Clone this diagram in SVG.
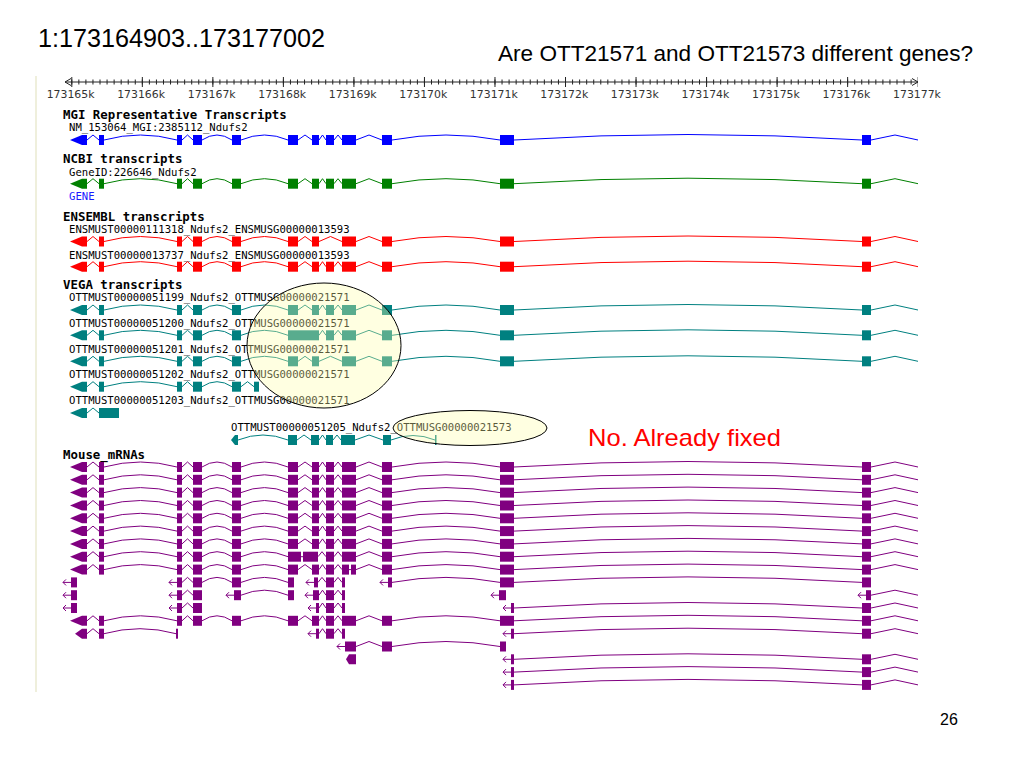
<svg xmlns="http://www.w3.org/2000/svg" xmlns:xlink="http://www.w3.org/1999/xlink" width="1024" height="768" viewBox="0 0 1024 768">
<style>
.e{fill:currentColor;stroke:none}
.in{fill:none;stroke:currentColor;stroke-width:1}
.lbl{font-family:"DejaVu Sans Mono",monospace;font-size:10.6px;fill:#000}
.ttl{font-family:"DejaVu Sans Mono",monospace;font-size:12.4px;font-weight:bold;fill:#000}
.rul{font-family:"DejaVu Sans",sans-serif;font-size:10.9px;fill:#333;text-anchor:middle}
.hl{fill:#ffffaa;fill-opacity:0.35;stroke:#000;stroke-width:1}
.big{font-family:"Liberation Sans",Arial,sans-serif;fill:#000}
.blue{color:#0000ff}
.green{color:#008000}
.red{color:#ff0000}
.teal{color:#008080}
.purple{color:#800080}
</style>
<defs>
<g id="head">
<polygon class="e" points="70,0 82,-5 87,-5 87,5 82,5"/>
<rect class="e" x="99" y="-5" width="5" height="10"/>
<rect class="e" x="177" y="-5" width="5" height="10"/>
<rect class="e" x="193" y="-5" width="9" height="10"/>
<rect class="e" x="232" y="-5" width="9" height="10"/>
<path class="in" d="M87,0 L93,-5 L99,0 M104,0 Q140.5,-10 177,0 M182,0 L187.5,-5 L193,0 M202,0 Q217,-10 232,0"/>
</g>
<g id="mid">
<rect class="e" x="288" y="-5" width="10" height="10"/>
<rect class="e" x="312" y="-5" width="7" height="10"/>
<rect class="e" x="326" y="-5" width="8" height="10"/>
<rect class="e" x="342" y="-5" width="14" height="10"/>
<path class="in" d="M241,0 Q264.5,-10 288,0 M298,0 L305,-5 L312,0 M319,0 L322.5,-5 L326,0 M334,0 L338,-5 L342,0"/>
</g>
<g id="mid7">
<rect class="e" x="288" y="-5" width="10" height="10"/>
<rect class="e" x="312" y="-5" width="7" height="10"/>
<rect class="e" x="342" y="-5" width="14" height="10"/>
<path class="in" d="M241,0 Q264.5,-10 288,0 M298,0 L305,-5 L312,0 M319,0 L330.5,-5 L342,0"/>
</g>
<g id="tail">
<rect class="e" x="382" y="-5" width="10" height="10"/>
<rect class="e" x="500" y="-5" width="14" height="10"/>
<rect class="e" x="862" y="-5" width="9" height="10"/>
<path class="in" d="M356,0 L369,-5 L382,0 M392,0 Q446,-10 500,0 M514,0 Q688,-11 862,0 M871,0 L895,-5 L918,0"/>
</g>
<path id="la" class="in" d="M0,0 L8,0 M3,-3 L0,0 L3,3"/>
<g id="rt">
<use href="#la" x="503"/>
<rect class="e" x="511" y="-5" width="3" height="10"/>
<rect class="e" x="862" y="-5" width="9" height="10"/>
<path class="in" d="M514,0 Q688,-11 862,0 M871,0 L895,-5 L918,0"/>
</g>
</defs>

<rect width="1024" height="768" fill="#fff"/>
<text class="big" x="38" y="47" font-size="25" textLength="287" lengthAdjust="spacingAndGlyphs">1:173164903..173177002</text>
<text class="big" x="498" y="61" font-size="21.5" textLength="475" lengthAdjust="spacingAndGlyphs">Are OTT21571 and OTT21573 different genes?</text>
<rect x="35" y="76" width="2" height="616" fill="#efefdc"/>

<g id="ruler" stroke="#222">
<line x1="65" y1="82" x2="918" y2="82"/>
<path d="M71,78.5 L65,82 L71,85.5 M912,78.5 L918,82 L912,85.5" fill="none"/>
<line x1="71.3" y1="82" x2="916" y2="82" stroke-width="5" stroke-dasharray="1 6.053"/>
<line x1="71.3" y1="82" x2="918" y2="82" stroke-width="10" stroke-dasharray="1 69.53"/>
<g stroke="none">
<text class="rul" x="70.6" y="98.3">173165k</text>
<text class="rul" x="141.1" y="98.3">173166k</text>
<text class="rul" x="211.7" y="98.3">173167k</text>
<text class="rul" x="282.2" y="98.3">173168k</text>
<text class="rul" x="352.7" y="98.3">173169k</text>
<text class="rul" x="423.3" y="98.3">173170k</text>
<text class="rul" x="493.8" y="98.3">173171k</text>
<text class="rul" x="564.3" y="98.3">173172k</text>
<text class="rul" x="634.8" y="98.3">173173k</text>
<text class="rul" x="705.4" y="98.3">173174k</text>
<text class="rul" x="775.9" y="98.3">173175k</text>
<text class="rul" x="846.4" y="98.3">173176k</text>
<text class="rul" x="917" y="98.3">173177k</text>
</g>
</g>

<g id="mgi">
<text class="ttl" x="63" y="118.5">MGI Representative Transcripts</text>
<text class="lbl" x="69" y="131">NM_153064_MGI:2385112_Ndufs2</text>
<g class="blue" transform="translate(0,140)"><use href="#head"/><use href="#mid"/><use href="#tail"/></g>
</g>

<g id="ncbi">
<text class="ttl" x="63" y="162.5">NCBI transcripts</text>
<text class="lbl" x="69" y="175.5">GeneID:226646_Ndufs2</text>
<g class="green" transform="translate(0,183.7)"><use href="#head"/><use href="#mid"/><use href="#tail"/></g>
<text class="lbl" x="69" y="200" style="fill:#1a1aff">GENE</text>
</g>

<g id="ensembl">
<text class="ttl" x="63" y="220.5">ENSEMBL transcripts</text>
<text class="lbl" x="69" y="232.5">ENSMUST00000111318_Ndufs2_ENSMUSG00000013593</text>
<g class="red" transform="translate(0,241.5)"><use href="#head"/><use href="#mid7"/><use href="#tail"/></g>
<text class="lbl" x="69" y="259">ENSMUST00000013737_Ndufs2_ENSMUSG00000013593</text>
<g class="red" transform="translate(0,266.7)"><use href="#head"/><use href="#mid"/><use href="#tail"/></g>
</g>

<g id="vega">
<text class="ttl" x="63" y="288.5">VEGA transcripts</text>
<text class="lbl" x="69" y="301">OTTMUST00000051199_Ndufs2_OTTMUSG00000021571</text>
<g class="teal" transform="translate(0,310)"><use href="#head"/><use href="#mid"/><use href="#tail"/></g>
<text class="lbl" x="69" y="327">OTTMUST00000051200_Ndufs2_OTTMUSG00000021571</text>
<g class="teal" transform="translate(0,335.3)"><use href="#head"/>
<rect class="e" x="288" y="-5" width="31" height="10"/>
<rect class="e" x="326" y="-5" width="8" height="10"/>
<rect class="e" x="342" y="-5" width="14" height="10"/>
<path class="in" d="M241,0 Q264.5,-10 288,0 M319,0 L322.5,-5 L326,0 M334,0 L338,-5 L342,0"/>
<use href="#tail"/></g>
<text class="lbl" x="69" y="353">OTTMUST00000051201_Ndufs2_OTTMUSG00000021571</text>
<g class="teal" transform="translate(0,361.3)"><use href="#head"/><use href="#mid7"/><use href="#tail"/></g>
<text class="lbl" x="69" y="378">OTTMUST00000051202_Ndufs2_OTTMUSG00000021571</text>
<g class="teal" transform="translate(0,386.7)"><use href="#head"/>
<rect class="e" x="254" y="-5" width="5" height="10"/>
<path class="in" d="M241,0 L247.5,-5 L254,0"/></g>
<text class="lbl" x="69" y="404">OTTMUST00000051203_Ndufs2_OTTMUSG00000021571</text>
<g class="teal" transform="translate(0,413)">
<polygon class="e" points="70,0 82,-5 87,-5 87,5 82,5"/>
<rect class="e" x="99" y="-5" width="20" height="10"/>
<path class="in" d="M87,0 L93,-5 L99,0"/></g>
<text class="lbl" x="231" y="431">OTTMUST00000051205_Ndufs2_OTTMUSG00000021573</text>
<g class="teal" transform="translate(0,440)">
<polygon class="e" points="231,0 235,-5 238,-5 238,5 235,5"/>
<rect class="e" x="288" y="-5" width="9" height="10"/>
<rect class="e" x="311" y="-5" width="8" height="10"/>
<rect class="e" x="326" y="-5" width="7" height="10"/>
<rect class="e" x="341" y="-5" width="14" height="10"/>
<rect class="e" x="383" y="-5" width="8" height="10"/>
<rect class="e" x="435" y="-5" width="1.5" height="10"/>
<path class="in" d="M238,0 Q263,-10 288,0 M297,0 L304,-5 L311,0 M319,0 L322.5,-5 L326,0 M333,0 L337,-5 L341,0 M355,0 L369,-5 L383,0 M391,0 Q413,-9 435,0"/></g>
</g>

<g id="mrna" class="purple">
<text class="ttl" x="63" y="459">Mouse_mRNAs</text>
<g transform="translate(0,467)"><use href="#head"/><use href="#mid"/><use href="#tail"/></g>
<g transform="translate(0,479.8)"><use href="#head"/><use href="#mid"/><use href="#tail"/></g>
<g transform="translate(0,492.6)"><use href="#head"/><use href="#mid"/><use href="#tail"/></g>
<g transform="translate(0,505.5)"><use href="#head"/><use href="#mid"/><use href="#tail"/></g>
<g transform="translate(0,518.3)"><use href="#head"/><use href="#mid"/><use href="#tail"/></g>
<g transform="translate(0,531.1)"><use href="#head"/><use href="#mid"/><use href="#tail"/></g>
<g transform="translate(0,543.9)"><use href="#head"/><use href="#mid"/><use href="#tail"/></g>
<g transform="translate(0,556.7)"><use href="#head"/>
<rect class="e" x="288" y="-5" width="13" height="10"/>
<rect class="e" x="303" y="-5" width="15" height="10"/>
<rect class="e" x="326" y="-5" width="8" height="10"/>
<rect class="e" x="342" y="-5" width="14" height="10"/>
<path class="in" d="M241,0 Q264.5,-10 288,0 M301,0 L303,0 M318,0 L322,-5 L326,0 M334,0 L338,-5 L342,0"/>
<use href="#tail"/></g>
<g transform="translate(0,569.6)"><use href="#head"/>
<rect class="e" x="288" y="-5" width="10" height="10"/>
<rect class="e" x="312" y="-5" width="7" height="10"/>
<rect class="e" x="326" y="-5" width="8" height="10"/>
<rect class="e" x="342" y="-5" width="7" height="10"/>
<rect class="e" x="351" y="-5" width="5" height="10"/>
<path class="in" d="M241,0 Q264.5,-10 288,0 M298,0 L305,-5 L312,0 M319,0 L322.5,-5 L326,0 M334,0 L338,-5 L342,0 M349,0 L351,0"/>
<use href="#tail"/></g>
<g transform="translate(0,582.4)">
<use href="#la" x="63"/><rect class="e" x="71" y="-5" width="6" height="10"/>
<use href="#la" x="169"/>
<rect class="e" x="177" y="-5" width="5" height="10"/>
<rect class="e" x="193" y="-5" width="9" height="10"/>
<rect class="e" x="232" y="-5" width="9" height="10"/>
<rect class="e" x="288" y="-5" width="6" height="10"/>
<path class="in" d="M182,0 L187.5,-5 L193,0 M202,0 Q217,-10 232,0 M241,0 Q264.5,-10 288,0"/>
<use href="#la" x="306"/>
<rect class="e" x="314" y="-5" width="4" height="10"/>
<rect class="e" x="326" y="-5" width="8" height="10"/>
<rect class="e" x="342" y="-5" width="3" height="10"/>
<path class="in" d="M318,0 L322,-5 L326,0 M334,0 L338,-5 L342,0"/>
<use href="#la" x="380"/>
<rect class="e" x="388" y="-5" width="4" height="10"/>
<rect class="e" x="500" y="-5" width="14" height="10"/>
<rect class="e" x="862" y="-5" width="9" height="10"/>
<path class="in" d="M392,0 Q446,-10 500,0 M514,0 Q688,-11 862,0"/>
</g>
<g transform="translate(0,595.2)">
<use href="#la" x="63"/><rect class="e" x="71" y="-5" width="6" height="10"/>
<use href="#la" x="169"/>
<rect class="e" x="177" y="-5" width="5" height="10"/>
<rect class="e" x="193" y="-5" width="9" height="10"/>
<path class="in" d="M182,0 L187.5,-5 L193,0"/>
<use href="#la" x="226"/>
<rect class="e" x="234" y="-5" width="7" height="10"/>
<rect class="e" x="288" y="-5" width="6" height="10"/>
<path class="in" d="M241,0 Q264.5,-10 288,0"/>
<use href="#la" x="305"/>
<rect class="e" x="313" y="-5" width="6" height="10"/>
<rect class="e" x="326" y="-5" width="8" height="10"/>
<rect class="e" x="342" y="-5" width="3" height="10"/>
<path class="in" d="M319,0 L322.5,-5 L326,0 M334,0 L338,-5 L342,0"/>
<use href="#la" x="491"/>
<rect class="e" x="499" y="-5" width="7" height="10"/>
<use href="#la" x="858"/>
<rect class="e" x="866" y="-5" width="5" height="10"/>
<path class="in" d="M871,0 L895,-5 L918,0"/>
</g>
<g transform="translate(0,608)">
<use href="#la" x="63"/><rect class="e" x="71" y="-5" width="6" height="10"/>
<use href="#la" x="169"/>
<rect class="e" x="177" y="-5" width="5" height="10"/>
<rect class="e" x="193" y="-5" width="9" height="10"/>
<path class="in" d="M182,0 L187.5,-5 L193,0"/>
<use href="#la" x="308"/>
<rect class="e" x="316" y="-5" width="3" height="10"/>
<rect class="e" x="326" y="-5" width="8" height="10"/>
<rect class="e" x="342" y="-5" width="3" height="10"/>
<path class="in" d="M319,0 L322.5,-5 L326,0 M334,0 L338,-5 L342,0"/>
<use href="#rt"/>
</g>
<g transform="translate(0,620.8)"><use href="#head"/><use href="#mid"/><use href="#tail"/></g>
<g transform="translate(0,633.7)">
<polygon class="e" points="75,0 82,-5 87,-5 87,5 82,5"/>
<rect class="e" x="99" y="-5" width="5" height="10"/>
<rect class="e" x="176" y="-5" width="2" height="10"/>
<path class="in" d="M87,0 L93,-5 L99,0 M104,0 Q140,-10 176,0"/>
<use href="#la" x="308"/>
<rect class="e" x="316" y="-5" width="3" height="10"/>
<rect class="e" x="326" y="-5" width="8" height="10"/>
<rect class="e" x="342" y="-5" width="3" height="10"/>
<path class="in" d="M319,0 L322.5,-5 L326,0 M334,0 L338,-5 L342,0"/>
<use href="#rt"/>
</g>
<g transform="translate(0,646.5)">
<use href="#la" x="337"/>
<rect class="e" x="345" y="-5" width="11" height="10"/>
<rect class="e" x="382" y="-5" width="10" height="10"/>
<rect class="e" x="500" y="-5" width="6" height="10"/>
<path class="in" d="M356,0 L369,-5 L382,0 M392,0 Q446,-10 500,0"/>
</g>
<g transform="translate(0,659.3)">
<polygon class="e" points="346,0 349,-5 356,-5 356,5 349,5"/>
<use href="#rt"/>
</g>
<g transform="translate(0,672.1)"><use href="#rt"/></g>
<g transform="translate(0,684.9)"><use href="#rt"/></g>
</g>

<g id="highlights">
<ellipse class="hl" cx="324" cy="345.5" rx="77" ry="62.5"/>
<ellipse class="hl" cx="470" cy="428" rx="77" ry="17.5"/>
</g>
<text class="big" x="588" y="446" font-size="24" style="fill:#ff0000" textLength="193" lengthAdjust="spacingAndGlyphs">No. Already fixed</text>
<text class="big" x="940" y="725" font-size="16">26</text>
</svg>
